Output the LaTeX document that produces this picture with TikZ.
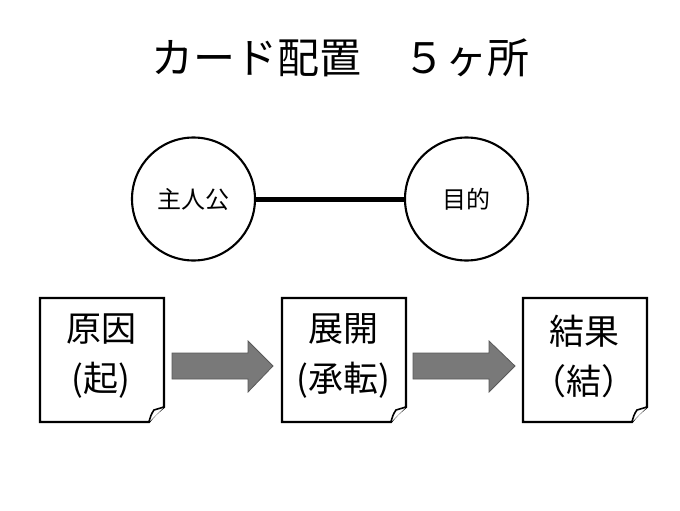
\documentclass[tikz,border=0pt]{standalone}
\usepackage{fontspec}
\setmainfont{Noto Sans CJK JP}
\begin{document}
\begin{tikzpicture}[x=1pt,y=-1pt,
  role/.style={circle,draw=black,line width=2.1pt,minimum size=123pt,inner sep=0pt,font=\fontsize{24}{28}\selectfont},
  card/.style={inner sep=0pt,align=center,font=\fontsize{35}{50}\selectfont},
  cardedge/.style={draw=black,line width=2.2pt,fill=white,line join=miter},
  flow/.style={fill=gray!95!black,draw=gray!70!black,line width=0.8pt}]
\useasboundingbox[fill=white] (0,0) rectangle (680,511);
% title
\node[font=\fontsize{42}{46}\selectfont] (title) at (340,58) {カード配置　５ヶ所};
% circles
\node[role] (hero) at (193.5,199) {主人公};
\node[role] (goal) at (466.5,199) {目的};
\draw[line width=5pt] (hero.east) -- (goal.west);
% cards
\newcommand{\cardshape}[2]{%
  \draw[cardedge] (#1,298) -- (#2,298) -- (#2,407)
    .. controls (#2-5,411) and (#2-11,416) .. (#2-15,422) -- (#1,422) -- cycle;
  \draw[cardedge,line width=1.6pt] (#2,407) -- (#2-10,410)
    .. controls (#2-13,414) and (#2-14,418) .. (#2-15,422);
}
\cardshape{40}{164}
\cardshape{282}{406}
\cardshape{523}{647}
\node[card] (c1) at (101,356) {原因\\(起)};
\node[card] (c2) at (343,356) {展開\\(承転)};
\node[card] (c3) at (584,356) {結果\\（結）};
% flow arrows
\draw[flow] (172,353) -- (248,353) -- (248,341) -- (273,366) -- (248,392) -- (248,379) -- (172,379) -- cycle;
\draw[flow] (413,353) -- (489,353) -- (489,341) -- (515,366) -- (489,392) -- (489,379) -- (413,379) -- cycle;
\end{tikzpicture}
\end{document}
